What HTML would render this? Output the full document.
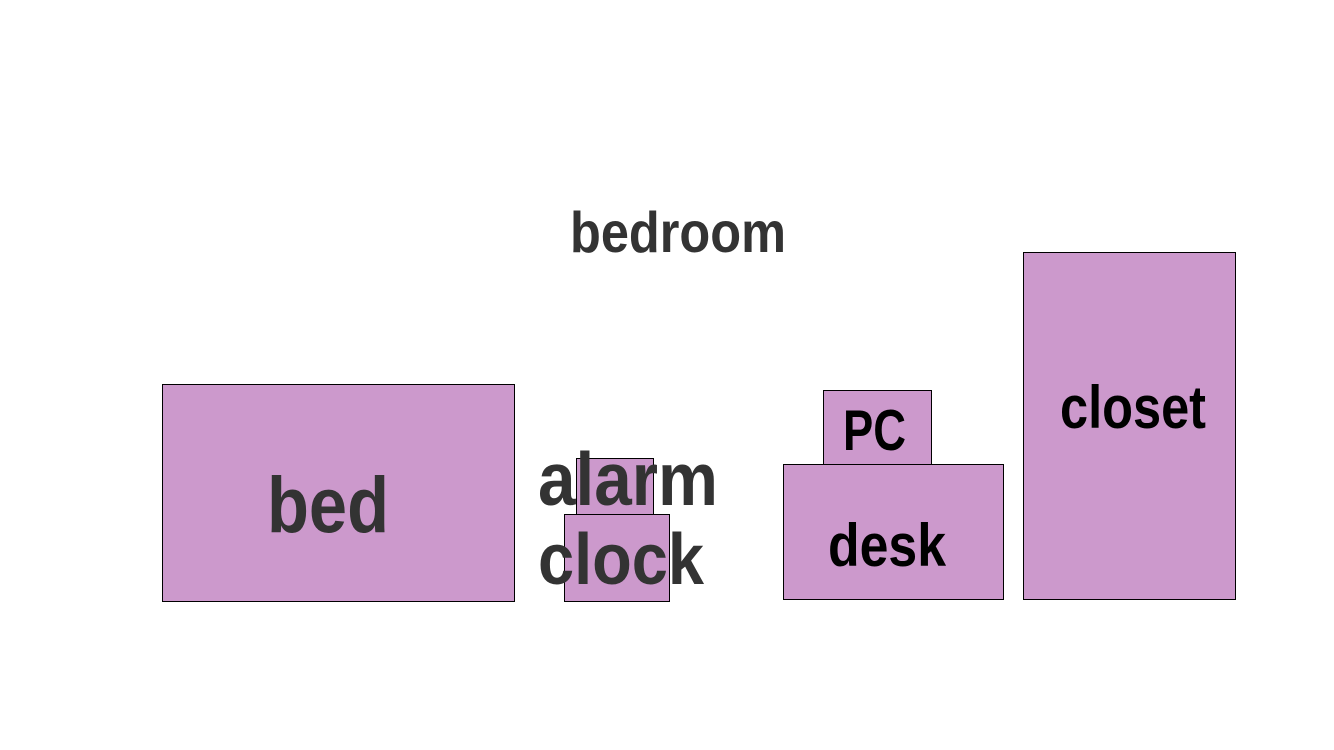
<!DOCTYPE html>
<html><head><meta charset="utf-8"><style>html,body{margin:0;padding:0;background:#fff}svg{display:block}</style></head>
<body>
<svg width="1334" height="750" xmlns="http://www.w3.org/2000/svg" font-family="Liberation Sans, sans-serif" font-weight="bold">
<g fill="#cc99cc" stroke="#000" stroke-width="1">
<rect x="162.5" y="384.5" width="352" height="217"/>
<rect x="576.5" y="458.5" width="77" height="56"/>
<rect x="564.5" y="514.5" width="105" height="87"/>
<rect x="823.5" y="390.5" width="108" height="74"/>
<rect x="783.5" y="464.5" width="220" height="135"/>
<rect x="1023.5" y="252.5" width="212" height="347"/>
</g>
<g fill="#333">
<text transform="translate(570,252) scale(1,1.15)" font-size="50" textLength="216" lengthAdjust="spacingAndGlyphs">bedroom</text>
<text transform="translate(267,532) scale(1,1.16)" font-size="68" textLength="122" lengthAdjust="spacingAndGlyphs">bed</text>
<text transform="translate(538,505) scale(1,1.12)" font-size="67" textLength="180" lengthAdjust="spacingAndGlyphs">alarm</text>
<text transform="translate(538,584) scale(1,1.12)" font-size="65" textLength="166" lengthAdjust="spacingAndGlyphs">clock</text>
</g>
<g fill="#000">
<text transform="translate(843,450) scale(1,1.27)" font-size="45" textLength="63" lengthAdjust="spacingAndGlyphs">PC</text>
<text transform="translate(828,566) scale(1,1.16)" font-size="52" textLength="118" lengthAdjust="spacingAndGlyphs">desk</text>
<text transform="translate(1060,428) scale(1,1.2)" font-size="50" textLength="146" lengthAdjust="spacingAndGlyphs">closet</text>
</g>
</svg>
</body></html>
